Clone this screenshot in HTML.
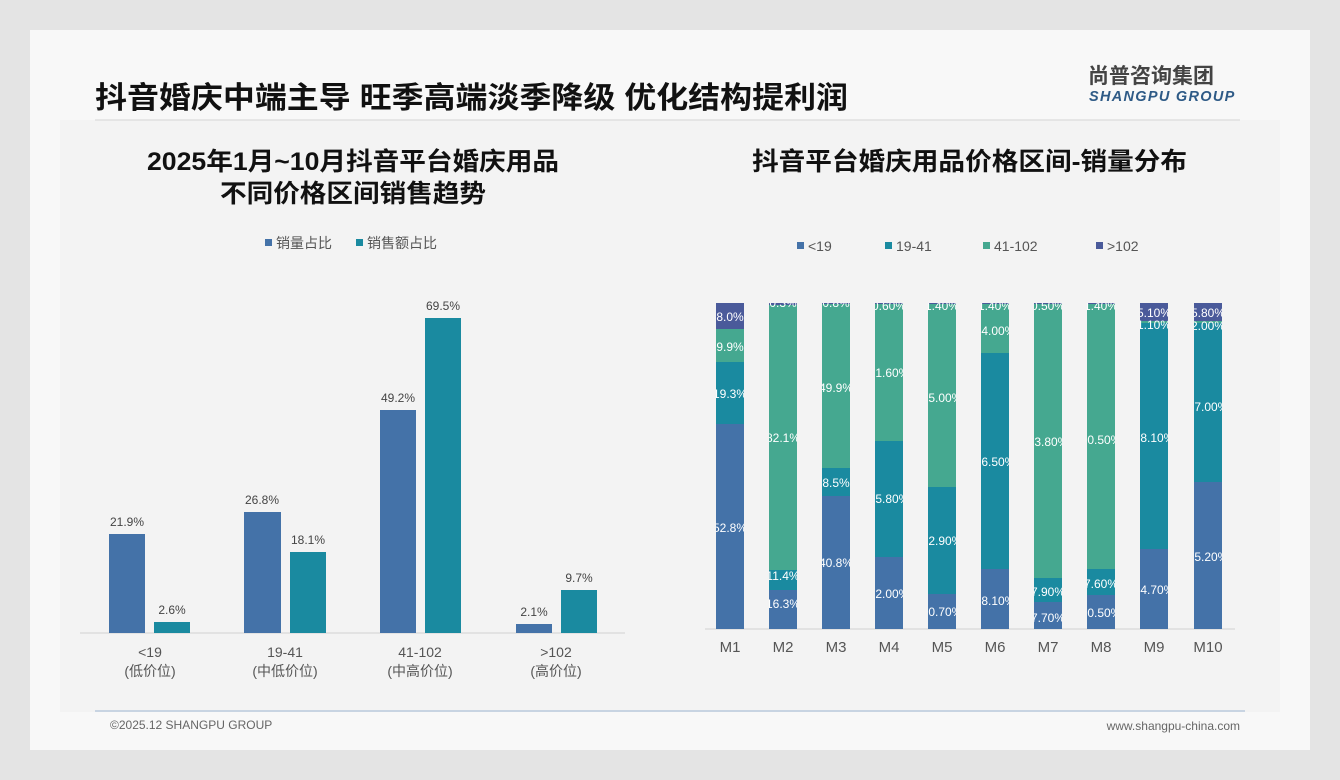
<!DOCTYPE html>
<html><head><meta charset="utf-8"><style>
html,body{margin:0;padding:0;background:#e6e6e6;}
svg{display:block;font-family:"Liberation Sans","Noto Sans CJK SC",sans-serif;}
</style></head><body>
<svg width="1340" height="780" viewBox="0 0 1340 780" xmlns="http://www.w3.org/2000/svg">
<rect x="0" y="0" width="1340" height="780" fill="#e4e4e4"/>
<rect x="30" y="30" width="1280" height="720" fill="#f8f8f8"/>
<rect x="60" y="120" width="1220" height="592" fill="#f3f3f3"/>
<text x="95" y="108" font-size="30" font-weight="bold" fill="#111" textLength="753" lengthAdjust="spacingAndGlyphs">抖音婚庆中端主导 旺季高端淡季降级 优化结构提利润</text>
<line x1="95" y1="120" x2="1240" y2="120" stroke="#e0e0e0" stroke-width="1.5"/>
<text x="1088" y="83" font-size="21" font-weight="bold" fill="#444">尚普咨询集团</text>
<text x="1089" y="101" font-size="14.5" font-weight="bold" font-style="italic" fill="#2e5a86" letter-spacing="1.3">SHANGPU GROUP</text>
<line x1="95" y1="711" x2="1245" y2="711" stroke="#9cb4d0" stroke-width="1"/>
<text x="110" y="729" font-size="12" fill="#666">©2025.12 SHANGPU GROUP</text>
<text x="1240" y="730" font-size="12" fill="#666" text-anchor="end">www.shangpu-china.com</text>

<!-- left chart -->
<text x="147" y="170" font-size="25" font-weight="bold" fill="#111" textLength="412" lengthAdjust="spacingAndGlyphs">2025年1月~10月抖音平台婚庆用品</text>
<text x="220" y="202" font-size="25" font-weight="bold" fill="#111" textLength="266" lengthAdjust="spacingAndGlyphs">不同价格区间销售趋势</text>
<rect x="265" y="239" width="7" height="7" fill="#4472a8"/>
<text x="276" y="248" font-size="14" fill="#555">销量占比</text>
<rect x="356" y="239" width="7" height="7" fill="#1a8aa0"/>
<text x="367" y="248" font-size="14" fill="#555">销售额占比</text>
<line x1="80" y1="633" x2="625" y2="633" stroke="#d0d0d0"/>
<g font-size="12" fill="#444" text-anchor="middle">
<rect x="109" y="534" width="36" height="99" fill="#4472a8"/><text x="127" y="526">21.9%</text>
<rect x="154" y="622" width="36" height="11" fill="#1a8aa0"/><text x="172" y="614">2.6%</text>
<rect x="244" y="512" width="37" height="121" fill="#4472a8"/><text x="262" y="504">26.8%</text>
<rect x="290" y="552" width="36" height="81" fill="#1a8aa0"/><text x="308" y="544">18.1%</text>
<rect x="380" y="410" width="36" height="223" fill="#4472a8"/><text x="398" y="402">49.2%</text>
<rect x="425" y="318" width="36" height="315" fill="#1a8aa0"/><text x="443" y="310">69.5%</text>
<rect x="516" y="624" width="36" height="9" fill="#4472a8"/><text x="534" y="616">2.1%</text>
<rect x="561" y="590" width="36" height="43" fill="#1a8aa0"/><text x="579" y="582">9.7%</text>
</g>
<g font-size="14" fill="#555" text-anchor="middle">
<text x="150" y="657">&lt;19</text><text x="150" y="676">(低价位)</text>
<text x="285" y="657">19-41</text><text x="285" y="676">(中低价位)</text>
<text x="420" y="657">41-102</text><text x="420" y="676">(中高价位)</text>
<text x="556" y="657">&gt;102</text><text x="556" y="676">(高价位)</text>
</g>

<!-- right chart -->
<text x="752" y="170" font-size="25" font-weight="bold" fill="#111" textLength="435" lengthAdjust="spacingAndGlyphs">抖音平台婚庆用品价格区间-销量分布</text>
<g font-size="14" fill="#555">
<rect x="797" y="242" width="7" height="7" fill="#4472a8"/><text x="808" y="251">&lt;19</text>
<rect x="885" y="242" width="7" height="7" fill="#1a8aa0"/><text x="896" y="251">19-41</text>
<rect x="983" y="242" width="7" height="7" fill="#45a890"/><text x="994" y="251">41-102</text>
<rect x="1096" y="242" width="7" height="7" fill="#4a5a9a"/><text x="1107" y="251">&gt;102</text>
</g>
<line x1="705" y1="629" x2="1235" y2="629" stroke="#d0d0d0"/>
<defs>
<clipPath id="c1"><rect x="716" y="303" width="28" height="326"/></clipPath>
<clipPath id="c2"><rect x="769" y="303" width="28" height="326"/></clipPath>
<clipPath id="c3"><rect x="822" y="303" width="28" height="326"/></clipPath>
<clipPath id="c4"><rect x="875" y="303" width="28" height="326"/></clipPath>
<clipPath id="c5"><rect x="928" y="303" width="28" height="326"/></clipPath>
<clipPath id="c6"><rect x="981" y="303" width="28" height="326"/></clipPath>
<clipPath id="c7"><rect x="1034" y="303" width="28" height="326"/></clipPath>
<clipPath id="c8"><rect x="1087" y="303" width="28" height="326"/></clipPath>
<clipPath id="c9"><rect x="1140" y="303" width="28" height="326"/></clipPath>
<clipPath id="c10"><rect x="1194" y="303" width="28" height="326"/></clipPath>
</defs>
<g font-size="12" fill="#fff" text-anchor="middle">
<g clip-path="url(#c1)">
<rect x="716" y="424" width="28" height="205" fill="#4472a8"/><rect x="716" y="362" width="28" height="62" fill="#1a8aa0"/><rect x="716" y="329" width="28" height="33" fill="#45a890"/><rect x="716" y="303" width="28" height="26" fill="#4a5a9a"/>
<text x="730" y="532">52.8%</text><text x="730" y="398">19.3%</text><text x="730" y="351">9.9%</text><text x="730" y="321">8.0%</text></g>
<g clip-path="url(#c2)">
<rect x="769" y="590" width="28" height="39" fill="#4472a8"/><rect x="769" y="570" width="28" height="20" fill="#1a8aa0"/><rect x="769" y="305" width="28" height="265" fill="#45a890"/><rect x="769" y="303" width="28" height="2" fill="#4a5a9a"/>
<text x="783" y="608">16.3%</text><text x="783" y="580">11.4%</text><text x="783" y="442">82.1%</text><text x="783" y="307">0.3%</text></g>
<g clip-path="url(#c3)">
<rect x="822" y="496" width="28" height="133" fill="#4472a8"/><rect x="822" y="468" width="28" height="28" fill="#1a8aa0"/><rect x="822" y="304" width="28" height="164" fill="#45a890"/><rect x="822" y="303" width="28" height="1" fill="#4a5a9a"/>
<text x="836" y="567">40.8%</text><text x="836" y="487">8.5%</text><text x="836" y="392">49.9%</text><text x="836" y="307">0.8%</text></g>
<g clip-path="url(#c4)">
<rect x="875" y="557" width="28" height="72" fill="#4472a8"/><rect x="875" y="441" width="28" height="116" fill="#1a8aa0"/><rect x="875" y="304" width="28" height="137" fill="#45a890"/><rect x="875" y="303" width="28" height="1" fill="#4a5a9a"/>
<text x="889" y="598">22.00%</text><text x="889" y="503">35.80%</text><text x="889" y="377">41.60%</text><text x="889" y="310">0.60%</text></g>
<g clip-path="url(#c5)">
<rect x="928" y="594" width="28" height="35" fill="#4472a8"/><rect x="928" y="487" width="28" height="107" fill="#1a8aa0"/><rect x="928" y="304" width="28" height="183" fill="#45a890"/><rect x="928" y="303" width="28" height="1" fill="#4a5a9a"/>
<text x="942" y="616">10.70%</text><text x="942" y="545">32.90%</text><text x="942" y="402">55.00%</text><text x="942" y="310">1.40%</text></g>
<g clip-path="url(#c6)">
<rect x="981" y="569" width="28" height="60" fill="#4472a8"/><rect x="981" y="353" width="28" height="216" fill="#1a8aa0"/><rect x="981" y="304" width="28" height="49" fill="#45a890"/><rect x="981" y="303" width="28" height="1" fill="#4a5a9a"/>
<text x="995" y="605">18.10%</text><text x="995" y="466">66.50%</text><text x="995" y="335">14.00%</text><text x="995" y="310">1.40%</text></g>
<g clip-path="url(#c7)">
<rect x="1034" y="602" width="28" height="27" fill="#4472a8"/><rect x="1034" y="578" width="28" height="24" fill="#1a8aa0"/><rect x="1034" y="304" width="28" height="274" fill="#45a890"/><rect x="1034" y="303" width="28" height="1" fill="#4a5a9a"/>
<text x="1048" y="622">7.70%</text><text x="1048" y="596">7.90%</text><text x="1048" y="446">83.80%</text><text x="1048" y="310">0.50%</text></g>
<g clip-path="url(#c8)">
<rect x="1087" y="595" width="28" height="34" fill="#4472a8"/><rect x="1087" y="569" width="28" height="26" fill="#1a8aa0"/><rect x="1087" y="304" width="28" height="265" fill="#45a890"/><rect x="1087" y="303" width="28" height="1" fill="#4a5a9a"/>
<text x="1101" y="617">10.50%</text><text x="1101" y="588">7.60%</text><text x="1101" y="444">80.50%</text><text x="1101" y="310">1.40%</text></g>
<g clip-path="url(#c9)">
<rect x="1140" y="549" width="28" height="80" fill="#4472a8"/><rect x="1140" y="323" width="28" height="226" fill="#1a8aa0"/><rect x="1140" y="321" width="28" height="2" fill="#45a890"/><rect x="1140" y="303" width="28" height="18" fill="#4a5a9a"/>
<text x="1154" y="594">24.70%</text><text x="1154" y="442">68.10%</text><text x="1154" y="329">1.10%</text><text x="1154" y="317">5.10%</text></g>
<g clip-path="url(#c10)">
<rect x="1194" y="482" width="28" height="147" fill="#4472a8"/><rect x="1194" y="323" width="28" height="159" fill="#1a8aa0"/><rect x="1194" y="321" width="28" height="2" fill="#45a890"/><rect x="1194" y="303" width="28" height="18" fill="#4a5a9a"/>
<text x="1208" y="561">45.20%</text><text x="1208" y="411">47.00%</text><text x="1208" y="330">2.00%</text><text x="1208" y="317">5.80%</text></g>
</g>
<g font-size="15" fill="#555" text-anchor="middle">
<text x="730" y="652">M1</text><text x="783" y="652">M2</text><text x="836" y="652">M3</text><text x="889" y="652">M4</text><text x="942" y="652">M5</text><text x="995" y="652">M6</text><text x="1048" y="652">M7</text><text x="1101" y="652">M8</text><text x="1154" y="652">M9</text><text x="1208" y="652">M10</text>
</g>
</svg>
</body></html>
